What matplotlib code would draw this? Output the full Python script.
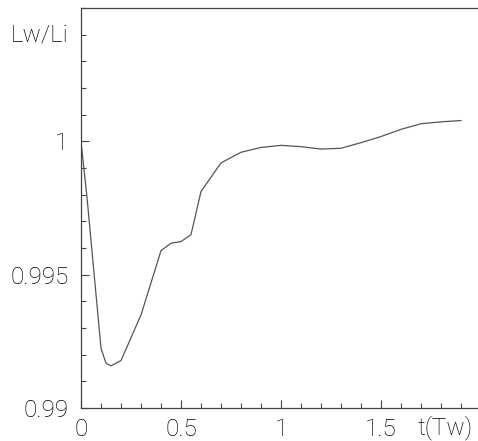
import matplotlib
matplotlib.use("Agg")
import matplotlib.pyplot as plt
from matplotlib.ticker import MultipleLocator, FixedLocator, FixedFormatter

plt.rcParams['font.family'] = ['Roboto', 'DejaVu Sans']
plt.rcParams['font.weight'] = 'light'

# curve
t = [0, 0.03, 0.1, 0.125, 0.15, 0.2, 0.3, 0.4, 0.45, 0.5, 0.55, 0.6, 0.7,
     0.8, 0.9, 1.0, 1.1, 1.2, 1.3, 1.4, 1.5, 1.6, 1.7, 1.8, 1.9]
ratio = [1.0, 0.9979, 0.99224, 0.99168, 0.99158, 0.99178, 0.99349, 0.9959,
         0.99618, 0.99624, 0.9965, 0.99812, 0.99919, 0.99959, 0.99977,
         0.99985, 0.9998, 0.99971, 0.99974, 0.99995, 1.00018, 1.00045,
         1.00066, 1.00073, 1.00078]

x_ticks = [0, 0.5, 1, 1.5]
x_labels = ['0', '0.5', '1', '1.5']
y_ticks = [0.99, 0.995, 1.0]
y_labels = ['0.99', '0.995', '1']

W, H = 478, 441
fig = plt.figure(figsize=(W / 100, H / 100), dpi=100)
ax = fig.add_axes([81 / W, 33 / H, 400 / W, 400 / H])

ax.plot(t, ratio, color='#555555', lw=0.9)

ax.set_xlim(0, 2)
ax.set_ylim(0.99, 1.005)

ax.xaxis.set_major_locator(FixedLocator(x_ticks))
ax.xaxis.set_major_formatter(FixedFormatter(x_labels))
ax.xaxis.set_minor_locator(MultipleLocator(0.1))
ax.yaxis.set_major_locator(FixedLocator(y_ticks))
ax.yaxis.set_major_formatter(FixedFormatter(y_labels))
ax.yaxis.set_minor_locator(MultipleLocator(0.001))

ax.tick_params(which='both', direction='in', color='#444444',
               labelsize=17.5, labelcolor='black', width=0.8)
ax.tick_params(which='major', length=6)
ax.tick_params(which='minor', length=3.5)
ax.tick_params(axis='x', which='major', pad=7)
ax.tick_params(axis='y', which='major', pad=9)

for side in ['left', 'bottom', 'top']:
    ax.spines[side].set_color('#444444')
    ax.spines[side].set_linewidth(0.9)
ax.spines['right'].set_visible(False)

# axis names sit in the tick label rows
ax.text(-13 / 400, 1.004, 'Lw/Li', transform=ax.get_yaxis_transform(),
        ha='right', va='center', fontsize=17.5, color='black')
ax.text(1.82, -7 / 400, 't(Tw)', transform=ax.get_xaxis_transform(),
        ha='center', va='top', fontsize=17.5, color='black')

fig.savefig('out.png', dpi=100)
